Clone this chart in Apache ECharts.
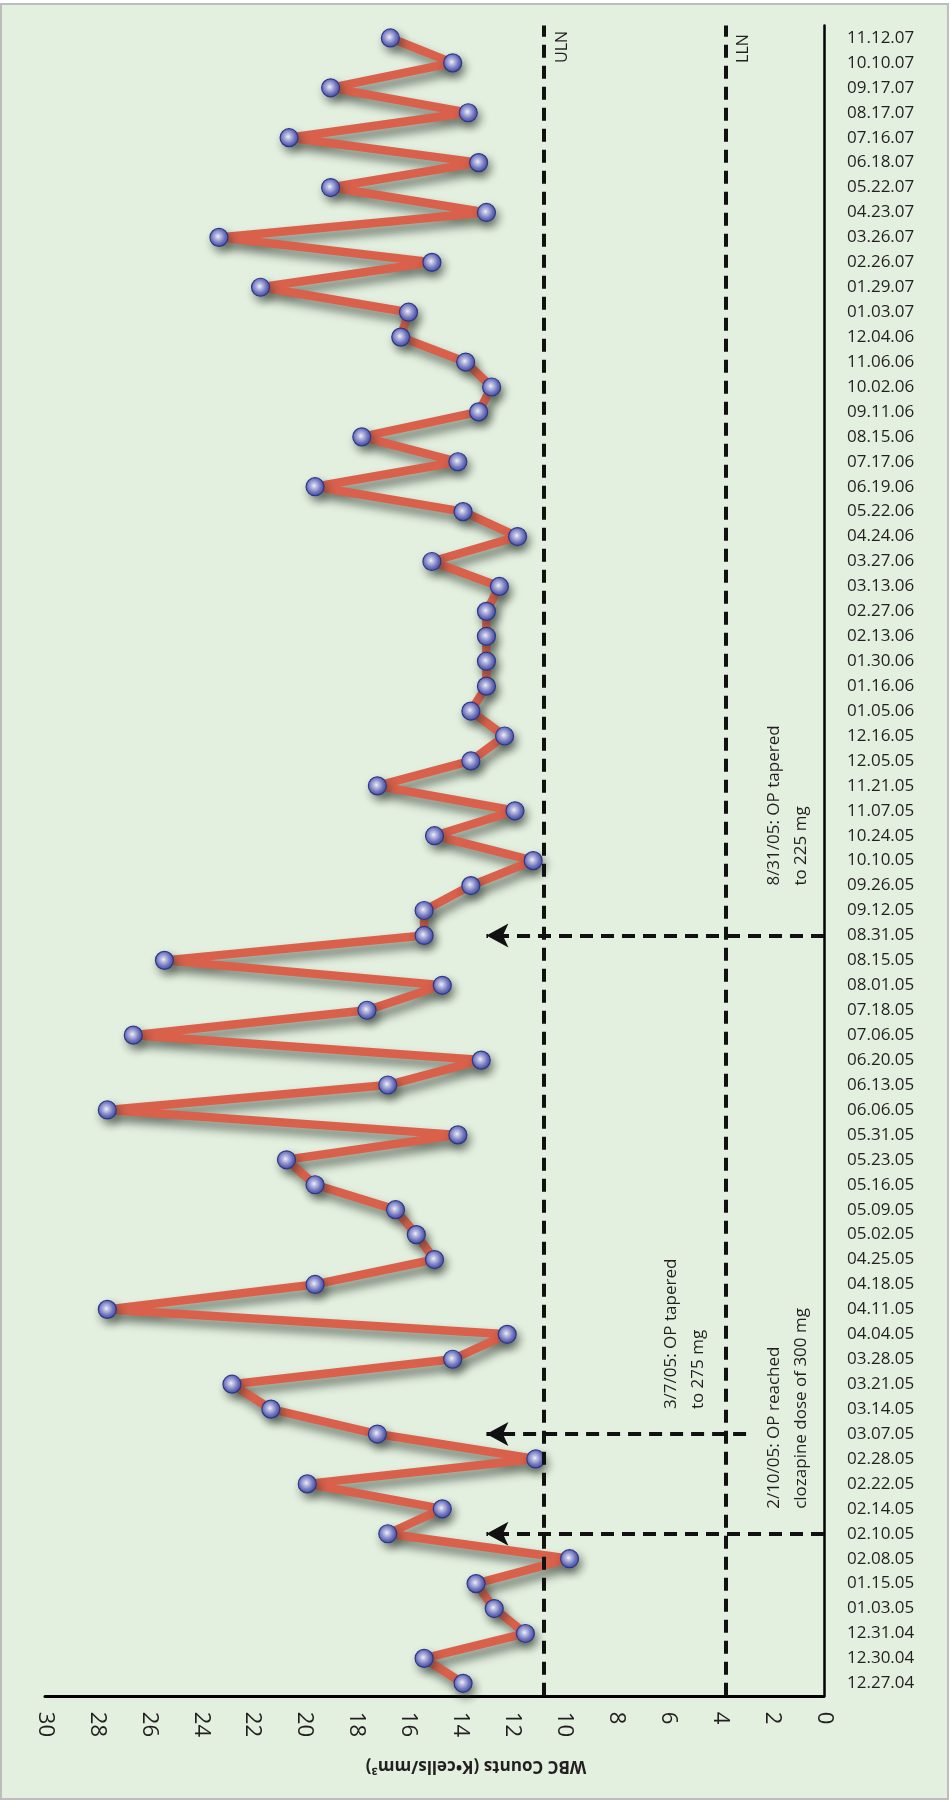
<!DOCTYPE html>
<html><head><meta charset="utf-8">
<script src="https://cdn.jsdelivr.net/npm/echarts@6/dist/echarts.min.js"></script>
<style>
html,body{margin:0;padding:0;background:#fff;}
#frame{position:absolute;left:0;top:3px;width:945px;height:1793px;border:2px solid #bdbdbd;background:#e3efdf;}
#chart{position:absolute;left:0;top:0;width:951px;height:1800px;}
</style></head><body>
<div id="frame"></div><div id="chart"></div>
<script>
// Sampling dates (chronological, bottom to top)
const dates = ['12.27.04','12.30.04','12.31.04','01.03.05','01.15.05','02.08.05','02.10.05','02.14.05','02.22.05','02.28.05',
  '03.07.05','03.14.05','03.21.05','03.28.05','04.04.05','04.11.05','04.18.05','04.25.05','05.02.05','05.09.05',
  '05.16.05','05.23.05','05.31.05','06.06.05','06.13.05','06.20.05','07.06.05','07.18.05','08.01.05','08.15.05',
  '08.31.05','09.12.05','09.26.05','10.10.05','10.24.05','11.07.05','11.21.05','12.05.05','12.16.05','01.05.06',
  '01.16.06','01.30.06','02.13.06','02.27.06','03.13.06','03.27.06','04.24.06','05.22.06','06.19.06','07.17.06',
  '08.15.06','09.11.06','10.02.06','11.06.06','12.04.06','01.03.07','01.29.07','02.26.07','03.26.07','04.23.07',
  '05.22.07','06.18.07','07.16.07','08.17.07','09.17.07','10.10.07','11.12.07'];
// WBC counts (K cells/mm3)
const wbc = [13.9,15.4,11.5,12.7,13.4,9.8,16.8,14.7,19.9,11.1,
  17.2,21.3,22.8,14.3,12.2,27.6,19.6,15.0,15.7,16.5,
  19.6,20.7,14.1,27.6,16.8,13.2,26.6,17.6,14.7,25.4,
  15.4,15.4,13.6,11.2,15.0,11.9,17.2,13.6,12.3,13.6,
  13.0,13.0,13.0,13.0,12.5,15.1,11.8,13.9,19.6,14.1,
  17.8,13.3,12.8,13.8,16.3,16.0,21.7,15.1,23.3,13.0,
  19.0,13.3,20.6,13.7,19.0,14.3,16.7];
// Reference limits
const limitNames = ['ULN','LLN'];
const limitValues = [10.8, 3.8];
// Value axis ticks
const axisMin = 0, axisMax = 30, axisStep = 2;
// Medication events
const eventDates = ['02.10.05','03.07.05','08.31.05'];
const eventArrowFrom = [0, 3, 0];
const eventArrowTo = [13, 13, 13];
const eventNotes = ['2/10/05: OP reached\nclozapine dose of 300 mg','3/7/05: OP tapered\nto 275 mg','8/31/05: OP tapered\nto 225 mg'];
const axisTitle = 'WBC Counts (K\u2022cells/mm\u00B3)';

const font = '"Open Sans", "Noto Sans", sans-serif';
const txt = '#231f20';

const chart = echarts.init(document.getElementById('chart'), null, {renderer:'canvas'});

const noteAnchors = [[1.4,'02.14.05'],[5.35,'03.14.05'],[1.4,'09.26.05']];
const limitAnchors = [[10.09,'10.10.07'],[3.12,'10.10.07']];

const notePoints = eventNotes.map((t,i)=>({
  coord: noteAnchors[i],
  label:{show:true, formatter:t, rotate:90, position:'inside', align:'left', verticalAlign:'middle',
    fontSize:17, lineHeight:27, color:txt, fontFamily:font}
}));
const limitPoints = limitNames.map((t,i)=>({
  coord: limitAnchors[i],
  label:{show:true, formatter:t, rotate:90, position:'inside', align:'left', verticalAlign:'middle',
    fontSize:16, color:txt, fontFamily:font}
}));

const dashStyle = {type:[13,8], width:4, color:'#111'};
const limitLines = limitValues.map(v=>({xAxis:v, lineStyle:dashStyle}));
const arrowLines = eventDates.map((d,i)=>[
  {coord:[eventArrowFrom[i],d], symbol:'none'},
  {coord:[eventArrowTo[i],d], symbol:'arrow', symbolSize:[18,22]}
]);

const option = {
  animation:false,
  grid:{left:45, right:127, top:25.5, bottom:104.2, containLabel:false},
  xAxis:{type:'value', min:axisMin, max:axisMax, interval:axisStep, inverse:true,
    axisLine:{show:true, onZero:false, lineStyle:{color:'#000', width:3}},
    axisTick:{show:false}, splitLine:{show:false},
    axisLabel:{rotate:-90, fontSize:22, color:txt, margin:16, fontFamily:font}},
  yAxis:{type:'category', data:dates, position:'right', boundaryGap:true,
    axisLine:{show:true, onZero:false, lineStyle:{color:'#000', width:2.5}},
    axisTick:{show:false}, splitLine:{show:false},
    axisLabel:{interval:0, fontSize:17, color:txt, margin:23, fontFamily:font}},
  series:[{
    type:'line',
    data: wbc.map((v,i)=>[v, dates[i]]),
    symbol:'circle', symbolSize:18,
    lineStyle:{color:'#d9604b', width:8.5, shadowColor:'rgba(35,45,35,0.6)', shadowBlur:10, shadowOffsetX:4, shadowOffsetY:7},
    itemStyle:{
      color:{type:'radial', x:0.45, y:0.45, r:0.6, colorStops:[
        {offset:0, color:'#ffffff'},{offset:0.2, color:'#c9cbef'},{offset:0.6, color:'#7479c6'},{offset:1, color:'#3a4399'}]},
      borderColor:'#2c378a', borderWidth:1.2,
      shadowColor:'rgba(35,45,35,0.5)', shadowBlur:8, shadowOffsetX:3, shadowOffsetY:5
    },
    emphasis:{disabled:true},
    z:3,
    markLine:{silent:true, animation:false, symbol:['none','none'], label:{show:false},
      lineStyle:dashStyle, emphasis:{disabled:true},
      data: limitLines.concat(arrowLines)},
    markPoint:{silent:true, animation:false, symbol:'circle', symbolSize:0,
      itemStyle:{color:'rgba(0,0,0,0)'},
      data: notePoints.concat(limitPoints)}
  }],
  graphic:[{type:'text', x:476, y:1766, rotation:Math.PI, silent:true,
    style:{text:axisTitle, font:'bold 17px "Open Sans", sans-serif', fill:txt, align:'center', verticalAlign:'middle'}}]
};
chart.setOption(option);
</script>
</body></html>
